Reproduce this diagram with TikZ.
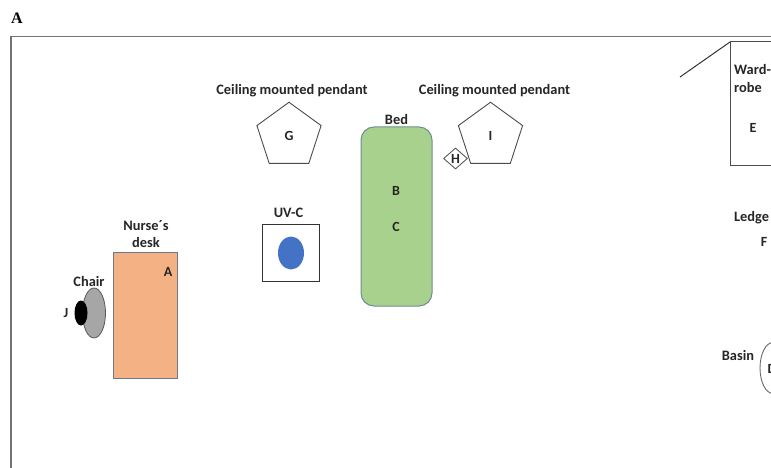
\documentclass[tikz,border=0pt]{standalone}
\usepackage{fontspec}
\setmainfont{Carlito}
\newfontfamily\panelfont{Liberation Serif}
\usetikzlibrary{shapes.geometric}

\definecolor{deskfill}{RGB}{244,177,131}
\definecolor{deskedge}{RGB}{110,120,140}
\definecolor{bedfill}{RGB}{169,209,142}
\definecolor{bededge}{RGB}{110,140,150}
\definecolor{uvblue}{RGB}{68,114,196}

\tikzset{
  lbl/.style = {font=\bfseries\fontsize{14.4}{17}\selectfont, inner sep=0pt, text=black!85},
  letter/.style = {font=\bfseries\fontsize{14}{16}\selectfont, inner sep=0pt, text=black!85},
  pendant/.style = {draw=black!70, line width=0.9pt, regular polygon, regular polygon sides=5,
    minimum size=67.5pt, inner sep=0pt, letter},
  furniture/.style = {draw=#1, line width=1pt, inner sep=0pt, outer sep=0pt},
  oval/.style = {ellipse, inner sep=0pt, outer sep=0pt}
}

\begin{document}
\begin{tikzpicture}[x=1pt, y=-1pt]
    \useasboundingbox (0,0) rectangle (771,468);
    \clip (0,0) rectangle (771,468);

    % Panel letter and room walls
    \node[font=\panelfont\bfseries\fontsize{16}{18}\selectfont, inner sep=0pt] (panel) at (17,18) {A};
    \coordinate (wallbottom) at (11,468);
    \coordinate (wallcorner) at (11,36.5);
    \coordinate (wallright) at (771,36.5);
    \draw[black!55, line width=1.2pt] (wallbottom) -- (wallcorner) -- (wallright);

    % Desk and chair
    \node[furniture=deskedge, fill=deskfill, minimum width=64.5pt, minimum height=126pt] (desk) at (145.5,315) {};
    \node[lbl, align=center] (desklabel) at (146,234) {Nurse´s\\desk};
    \node[letter] (a) at (168,272) {A};
    \node[oval, draw=black!65, line width=0.8pt, fill=black!35, minimum width=23pt, minimum height=50pt] (chair) at (94,313) {};
    \node[oval, fill=black, minimum width=13pt, minimum height=25pt] (seat) at (81,313) {};
    \node[lbl] (chairlabel) at (89,281.5) {Chair};
    \node[letter] (j) at (66,313) {J};

    % UV-C
    \node[furniture=black!80, minimum size=57.5pt] (uvbox) at (291,253) {};
    \node[oval, fill=uvblue, minimum width=26pt, minimum height=33pt] (uvc) at (291,253) {};
    \node[lbl] (uvlabel) at (288.5,212.5) {UV-C};

    % Pendants
    \node[pendant] (g) at (289,136) {G};
    \node[lbl] (glabel) at (292,91) {Ceiling mounted pendant};
    \node[pendant] (i) at (490.5,136) {I};
    \node[lbl] (ilabel) at (494.5,90.5) {Ceiling mounted pendant};
    \node[draw=black!65, line width=0.9pt, diamond, minimum width=24pt, minimum height=21pt, inner sep=0pt, letter] (h) at (455.5,158.5) {H};

    % Bed
    \node[furniture=bededge, fill=bedfill, rounded corners=13pt, minimum width=71pt, minimum height=179pt] (bed) at (396.5,216.5) {};
    \node[lbl] (bedlabel) at (396.5,119.5) {Bed};
    \node[letter] (b) at (396,191) {B};
    \node[letter] (c) at (396,227) {C};

    % Wardrobe
    \node[furniture=black!70, minimum width=80pt, minimum height=123pt] (wardrobe) at (770,103.5) {};
    \coordinate (door) at (680,77);
    \draw[black!80, line width=1pt] (wardrobe.north west) -- (door);
    \node[lbl, align=left, anchor=west] (wardlabel) at (734,79) {Ward-\\[1pt]robe};
    \node[letter] (e) at (753,128) {E};

    % Ledge
    \node[lbl] (ledge) at (751.5,218) {Ledge};
    \node[letter] (f) at (764,242) {F};

    % Basin
    \node[oval, draw=black!60, line width=0.9pt, minimum width=26pt, minimum height=51pt] (basin) at (773,368) {};
    \node[lbl] (basinlabel) at (738,355.5) {Basin};
    \node[letter, anchor=west] (d) at (767.5,369) {D};

\end{tikzpicture}
\end{document}
